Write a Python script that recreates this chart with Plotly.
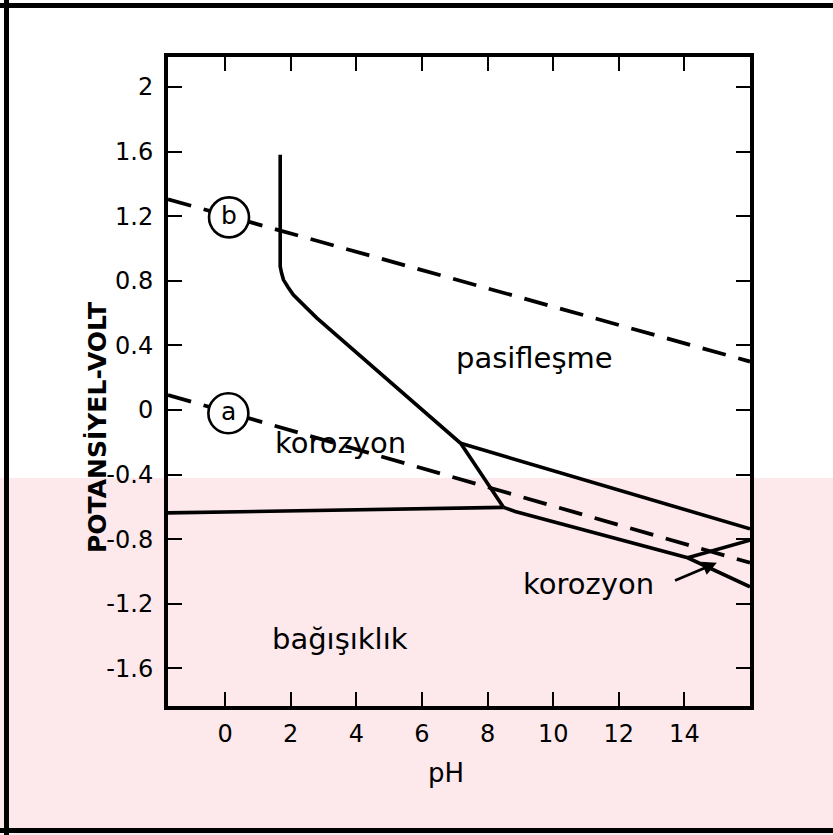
import plotly.graph_objects as go

# ---------------- data ----------------
x_ticks = [0, 2, 4, 6, 8, 10, 12, 14]
x_ticktext = ["0", "2", "4", "6", "8", "10", "12", "14"]
y_ticks = [2.0, 1.6, 1.2, 0.8, 0.4, 0.0, -0.4, -0.8, -1.2, -1.6]
y_ticktext = ["2", "1.6", "1.2", "0.8", "0.4", "0", "-0.4", "-0.8", "-1.2", "-1.6"]

# passivation / corrosion boundary (vertical part, bend, oblique)
pass_ph = [1.68, 1.68, 1.72, 1.78, 1.92, 2.08, 2.49, 2.80, 7.18, 8.49]
pass_v = [1.58, 0.89, 0.85, 0.806, 0.76, 0.713, 0.631, 0.569, -0.206, -0.603]
# immunity boundary
imm_ph = [-1.74, 8.49]
imm_v = [-0.637, -0.603]
# upper alkaline boundary
up_ph = [7.18, 16.0]
up_v = [-0.206, -0.736]
# lower alkaline boundary
low_ph = [8.49, 8.84, 14.1, 16.0]
low_v = [-0.603, -0.628, -0.915, -1.095]
# small crossing boundary (alkaline corrosion pocket)
cross_ph = [14.1, 16.0]
cross_v = [-0.915, -0.806]
# water stability lines (dashed)
a_ph = [-1.74, 16.0]
a_v = [0.093, -0.946]
b_ph = [-1.74, 16.0]
b_v = [1.305, 0.300]
# circled line labels
circ_text = ["a", "b"]
circ_ph = [0.10, 0.12]
circ_v = [-0.02, 1.193]
# region labels
reg_text = ["pasifleşme", "korozyon", "korozyon", "bağışıklık"]
reg_ph = [9.42, 3.52, 11.07, 3.51]
reg_v = [0.32, -0.205, -1.08, -1.42]
# arrow pointing into the small corrosion pocket
arrow_tail = (13.67, -1.060)
arrow_head = (14.99, -0.946)

X_RANGE = [-1.74, 16.0]
Y_RANGE = [-1.833, 2.186]

# ---------------- figure ----------------
W, H = 833, 835
L, R, T, B = 168, 83, 57, 129
PW, PH = W - L - R, H - T - B

def px(xpix):
    return (xpix - L) / PW

def py(ypix):
    return (H - B - ypix) / PH

FONT = "DejaVu Sans"
fig = go.Figure()

solid = dict(color="black", width=3.6)
dashed = dict(color="black", width=3.8, dash="24px,13px")

for xs, ys in [(pass_ph, pass_v), (imm_ph, imm_v), (up_ph, up_v),
               (low_ph, low_v), (cross_ph, cross_v)]:
    fig.add_trace(go.Scatter(x=xs, y=ys, mode="lines", line=solid,
                             hoverinfo="skip", showlegend=False))
for xs, ys in [(a_ph, a_v), (b_ph, b_v)]:
    fig.add_trace(go.Scatter(x=xs, y=ys, mode="lines", line=dashed,
                             hoverinfo="skip", showlegend=False))

shapes = []
# page background: white upper part, pale pink watermark band below
PINK = "#fde9ec"
shapes.append(dict(type="rect", xref="paper", yref="paper", layer="below",
                   x0=px(0), x1=px(W), y0=py(0), y1=py(478),
                   fillcolor="white", line=dict(width=0)))
shapes.append(dict(type="rect", xref="paper", yref="paper", layer="below",
                   x0=px(0), x1=px(W), y0=py(478), y1=py(H),
                   fillcolor=PINK, line=dict(width=0)))

# circles around a / b
for cx, cy in zip(circ_ph, circ_v):
    shapes.append(dict(type="circle", xref="x", yref="y", layer="above",
                       xsizemode="pixel", ysizemode="pixel",
                       xanchor=cx, yanchor=cy, x0=-20, x1=20, y0=-20, y1=20,
                       fillcolor="white", line=dict(color="black", width=2.6)))

# outer border of the scanned page (top, left, bottom)
for x0, x1, y0, y1 in [(0, W, 3, 8), (4, 9, 0, H), (0, W, 828, 833)]:
    shapes.append(dict(type="rect", xref="paper", yref="paper", layer="above",
                       x0=px(x0), x1=px(x1), y0=py(y0), y1=py(y1),
                       fillcolor="black", line=dict(width=0)))

annotations = []
for t, cx, cy in zip(circ_text, circ_ph, circ_v):
    annotations.append(dict(x=cx, y=cy, xref="x", yref="y", text=t,
                            showarrow=False, yshift=2,
                            font=dict(family=FONT, size=25, color="black")))
for t, cx, cy in zip(reg_text, reg_ph, reg_v):
    annotations.append(dict(x=cx, y=cy, xref="x", yref="y", text=t,
                            showarrow=False, yshift=0,
                            font=dict(family=FONT, size=29, color="black")))
annotations.append(dict(x=arrow_head[0], y=arrow_head[1], ax=arrow_tail[0],
                        ay=arrow_tail[1], xref="x", yref="y", axref="x",
                        ayref="y", text="", showarrow=True, arrowhead=2,
                        arrowsize=1.0, arrowwidth=2.8, arrowcolor="black",
                        standoff=0, startstandoff=0))
# axis titles
annotations.append(dict(x=px(97), y=py(428), xref="paper", yref="paper",
                        xanchor="center", yanchor="middle",
                        text="<b>POTANSİYEL-VOLT</b>", textangle=-90,
                        showarrow=False,
                        font=dict(family=FONT, size=25, color="black")))
annotations.append(dict(x=px(446), y=py(773), xref="paper", yref="paper",
                        xanchor="center", yanchor="middle",
                        text="pH", showarrow=False,
                        font=dict(family=FONT, size=26, color="black")))

axis_common = dict(showgrid=False, zeroline=False, showline=True,
                   linecolor="black", linewidth=4, mirror="allticks",
                   ticks="inside", ticklen=14, tickwidth=2.4, tickcolor="black",
                   tickfont=dict(family=FONT, size=24, color="black"))

fig.update_xaxes(range=X_RANGE, tickmode="array", tickvals=x_ticks,
                 ticktext=x_ticktext, ticklabelstandoff=3, **axis_common)
fig.update_yaxes(range=Y_RANGE, tickmode="array", tickvals=y_ticks,
                 ticktext=y_ticktext, ticklabelstandoff=6, **axis_common)

fig.update_layout(width=W, height=H, margin=dict(l=L, r=R, t=T, b=B),
                  paper_bgcolor="white", plot_bgcolor="rgba(0,0,0,0)",
                  shapes=shapes, annotations=annotations, showlegend=False)

fig.write_html("out.html", config={"displayModeBar": False})
